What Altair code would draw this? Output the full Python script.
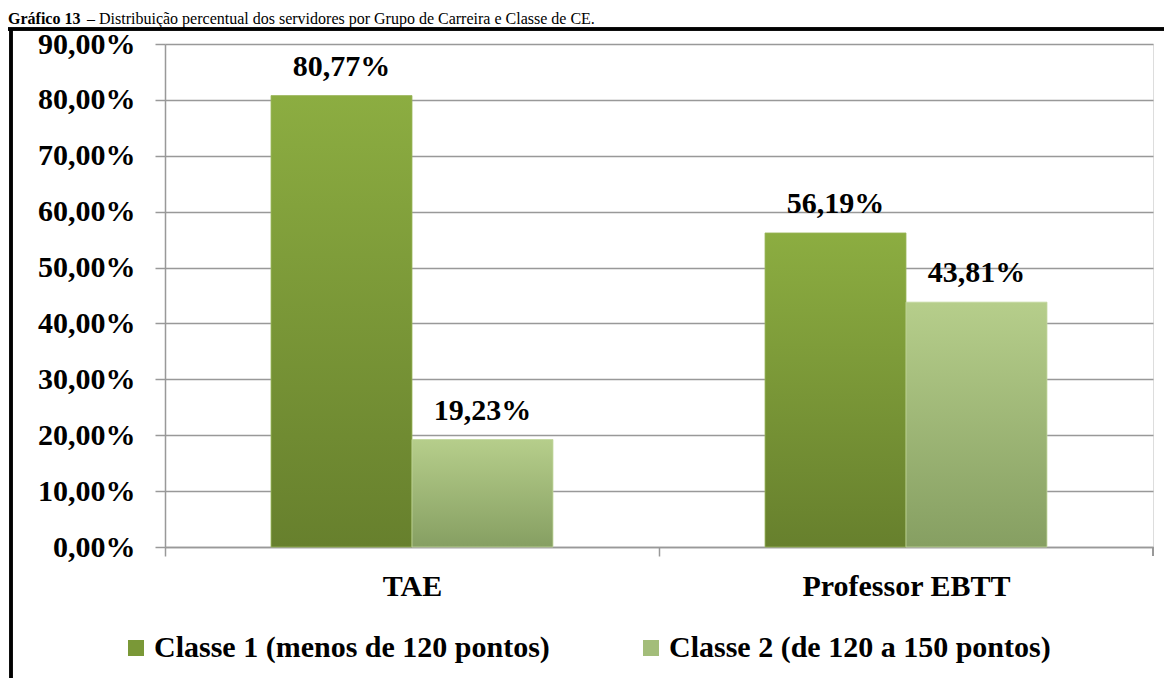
import altair as alt
import pandas as pd

grupos = ["TAE", "Professor EBTT"]
classes = ["Classe 1 (menos de 120 pontos)", "Classe 2 (de 120 a 150 pontos)"]
classe1 = [80.77, 56.19]
classe2 = [19.23, 43.81]
titulo_bold = "Gráfico 13"
titulo_resto = "– Distribuição percentual dos servidores por Grupo de Carreira e Classe de CE."

rows = []
for i, g in enumerate(grupos):
    rows.append({"grupo": g, "classe": classes[0], "valor": classe1[i]})
    rows.append({"grupo": g, "classe": classes[1], "valor": classe2[i]})
df = pd.DataFrame(rows)
df["rotulo"] = df["valor"].map(lambda v: f"{v:.2f}".replace(".", ",") + "%")

FONT = "Liberation Serif"
FS = 30
W, H = 988, 503

grad1 = alt.Gradient(gradient="linear", x1=0, x2=0, y1=0, y2=1,
                     stops=[alt.GradientStop(color="#8cad41", offset=0),
                            alt.GradientStop(color="#67802d", offset=1)])
grad2 = alt.Gradient(gradient="linear", x1=0, x2=0, y1=0, y2=1,
                     stops=[alt.GradientStop(color="#b6ce8b", offset=0),
                            alt.GradientStop(color="#869f62", offset=1)])

x_enc = alt.X("grupo:N", sort=grupos, title=None,
              scale=alt.Scale(paddingInner=0, paddingOuter=0),
              axis=alt.Axis(labelFont=FONT, labelFontSize=FS, labelFontWeight="bold",
                            labelColor="#000000", labelAngle=0, labelPadding=15,
                            labelLimit=0,
                            tickSize=9, tickColor="#999999", tickWidth=1.5,
                            tickOffset=-247, labelOffset=247,
                            domainColor="#999999", domainWidth=1.5))
xo_enc = alt.XOffset("classe:N", sort=classes,
                     scale=alt.Scale(domain=classes, paddingInner=0, paddingOuter=0.752))
y_enc = alt.Y("valor:Q", title=None,
              scale=alt.Scale(domain=[0, 90], nice=False),
              axis=alt.Axis(values=list(range(0, 91, 10)),
                            labelExpr="replace(format(datum.value, '.2f'), '.', ',') + '%'",
                            labelFont=FONT, labelFontSize=FS, labelFontWeight="bold",
                            labelColor="#000000", labelPadding=20,
                            tickSize=10, tickColor="#999999", tickWidth=1.5,
                            domainColor="#999999", domainWidth=1.5,
                            grid=True, gridColor="#999999", gridWidth=1.5))

base = alt.Chart(df)

bars1 = base.transform_filter(alt.datum.classe == classes[0]).mark_bar(
    fill=grad1, stroke="#9ab65a", strokeWidth=0.8).encode(x=x_enc, xOffset=xo_enc, y=y_enc)
bars2 = base.transform_filter(alt.datum.classe == classes[1]).mark_bar(
    fill=grad2, stroke="#c0d69a", strokeWidth=0.8).encode(x=x_enc, xOffset=xo_enc, y=y_enc)

legend_layer = base.mark_square(opacity=0, size=0).encode(
    x=x_enc, xOffset=xo_enc, y=y_enc,
    color=alt.Color("classe:N", sort=classes,
                    scale=alt.Scale(domain=classes, range=["#7a9837", "#a3bd7a"]),
                    legend=alt.Legend(title=None, orient="none", direction="horizontal",
                                      legendX=-44, legendY=589,
                                      symbolType="square", symbolSize=256,
                                      symbolOpacity=1, symbolStrokeWidth=0,
                                      labelFont=FONT, labelFontSize=FS, labelFontWeight="bold",
                                      labelColor="#000000", labelOffset=3,
                                      columnPadding=86, padding=0, labelLimit=0)))

labels = base.mark_text(font=FONT, fontSize=FS, fontWeight="bold", color="#000000",
                        baseline="alphabetic", dy=-20).encode(
    x=x_enc, xOffset=xo_enc, y=y_enc, text="rotulo:N")

end_tick = base.mark_rule(color="#999999", strokeWidth=1.5).encode(
    x=alt.value(W), y=alt.value(H), y2=alt.value(H + 9))

frame_left = base.mark_rule(color="#000000", strokeWidth=3).encode(
    x=alt.value(-154), y=alt.value(-15), y2=alt.value(700))
frame_top = base.mark_rule(color="#000000", strokeWidth=3).encode(
    x=alt.value(-160), x2=alt.value(1100), y=alt.value(-15))

t1 = alt.Chart(pd.DataFrame({"t": [titulo_bold]})).mark_text(
    font=FONT, fontSize=16, fontWeight="bold", align="left", baseline="alphabetic",
    color="#000000").encode(text="t:N", x=alt.value(-157), y=alt.value(-20))
t2 = alt.Chart(pd.DataFrame({"t": [titulo_resto]})).mark_text(
    font=FONT, fontSize=16, align="left", baseline="alphabetic",
    color="#000000").encode(text="t:N", x=alt.value(-78), y=alt.value(-20))

chart = alt.layer(bars1, bars2, legend_layer, labels, end_tick,
                  frame_left, frame_top, t1, t2).properties(
    width=W, height=H,
    autosize=alt.AutoSizeParams(type="none"),
    padding={"left": 157, "top": 36, "right": 11, "bottom": 131},
).configure_view(fill="#c4bd97", stroke=None).configure(background="#ffffff")

chart.save("out.html", embed_options={"renderer": "svg", "actions": False})
